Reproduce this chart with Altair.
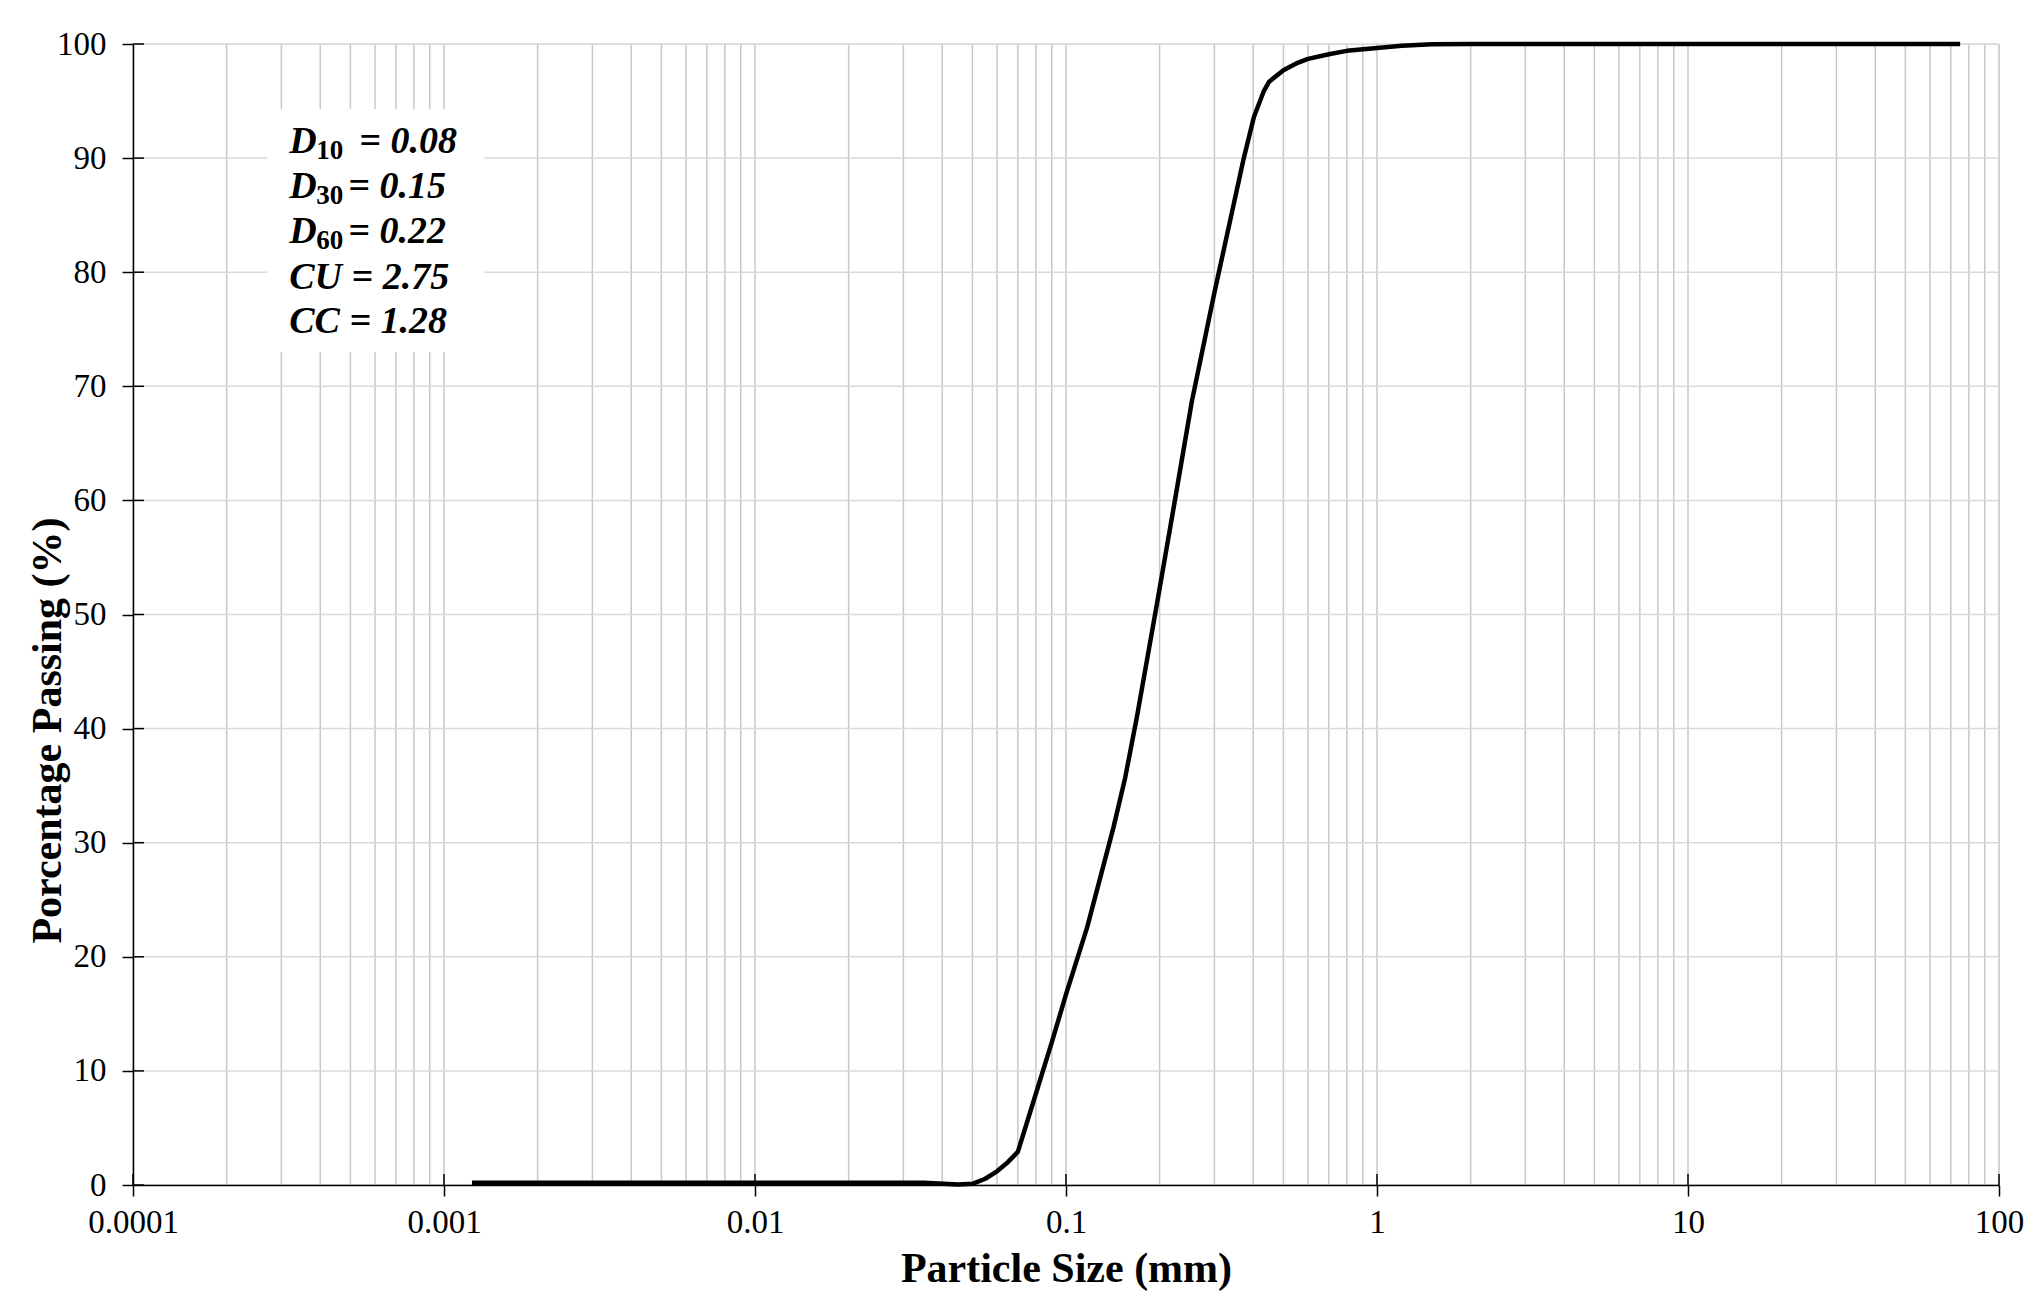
import altair as alt
import pandas as pd

# Particle size distribution
sizes = [0.00123, 0.01, 0.035, 0.045, 0.05, 0.055, 0.06, 0.065, 0.07, 0.08, 0.09, 0.1, 0.117, 0.142,
         0.155, 0.169, 0.196, 0.222, 0.254, 0.30, 0.373, 0.402, 0.433, 0.45, 0.5, 0.55, 0.6, 0.7,
         0.8, 1.0, 1.2, 1.5, 2.0, 75.0]
passing = [0.2, 0.2, 0.2, 0.05, 0.1, 0.55, 1.2, 2.0, 2.9, 8.0, 12.5, 16.7, 22.6, 31.3,
           35.7, 41.0, 50.9, 59.4, 68.7, 78.2, 90.0, 93.6, 95.9, 96.7, 97.7, 98.3, 98.7, 99.1,
           99.4, 99.65, 99.85, 99.97, 100.0, 100.0]

x_decades = [0.0001, 0.001, 0.01, 0.1, 1, 10, 100]
x_grid = [m * d for d in [0.0001, 0.001, 0.01, 0.1, 1, 10] for m in range(1, 10)] + [100]
y_ticks = [0, 10, 20, 30, 40, 50, 60, 70, 80, 90, 100]

# annotation: main text, subscripts and the rest of each line
ann_main = ["D", "D", "D", "CU = 2.75", "CC = 1.28"]
ann_sub = ["10", "30", "60"]
ann_rest_first = ["= 0.08"]
ann_rest = ["= 0.15", "= 0.22"]
ann_y = [91.6, 87.6, 83.7, 79.7, 75.8]
ann_x = 0.000318
box_x = [0.00027, 0.00135]
box_y = [73.0, 94.3]

W, H = 1866, 1141
FONT = "Liberation Serif"

xscale = alt.Scale(type="log", domain=[0.0001, 100])
yscale = alt.Scale(domain=[0, 100])

xaxis = alt.Axis(values=x_decades, title="Particle Size (mm)", grid=False,
                 labelExpr="format(datum.value, '~g')", labelFlush=False,
                 tickSize=11, tickWidth=1.5, tickColor="black",
                 domainColor="black", domainWidth=1.5,
                 labelFont=FONT, labelFontSize=33, labelColor="black", labelPadding=10,
                 titleFont=FONT, titleFontSize=42, titleFontWeight="bold", titleColor="black",
                 titleY=83, titleBaseline="middle", zindex=1)
yaxis = alt.Axis(values=y_ticks, title="Porcentage Passing (%)", grid=False, labelFlush=False,
                 tickSize=11, tickWidth=1.5, tickColor="black",
                 domainColor="black", domainWidth=1.5,
                 labelFont=FONT, labelFontSize=33, labelColor="black", labelPadding=16,
                 titleFont=FONT, titleFontSize=42, titleFontWeight="bold", titleColor="black",
                 titleX=-86, titleY=686, titleBaseline="middle", zindex=1)

X = lambda f="x": alt.X(f"{f}:Q", scale=xscale, axis=xaxis, title="Particle Size (mm)")
Y = lambda f="y": alt.Y(f"{f}:Q", scale=yscale, axis=yaxis, title="Porcentage Passing (%)")

df = pd.DataFrame({"x": sizes, "y": passing})

vgrid = alt.Chart(pd.DataFrame({"x": x_grid})).mark_rule(color="#c8c8c8", strokeWidth=1.5).encode(
    x=X(), y=alt.value(0), y2=alt.value(H))
hgrid = alt.Chart(pd.DataFrame({"y": y_ticks})).mark_rule(color="#d9d9d9", strokeWidth=1.5).encode(
    y=Y(), x=alt.value(0), x2=alt.value(W))

box = alt.Chart(pd.DataFrame({"x": [box_x[0]], "x2": [box_x[1]], "y": [box_y[0]], "y2": [box_y[1]]})).mark_rect(
    color="white").encode(x=X(), x2="x2:Q", y=Y(), y2="y2:Q")

txt_style = dict(align="left", baseline="alphabetic", font=FONT, fontStyle="italic",
                 fontWeight="bold", color="black")
main = alt.Chart(pd.DataFrame({"x": [ann_x] * 5, "y": ann_y, "t": ann_main})).mark_text(
    fontSize=38, dy=13, **txt_style).encode(x=X(), y=Y(), text="t:N")
sub = alt.Chart(pd.DataFrame({"x": [ann_x] * 3, "y": ann_y[:3], "t": ann_sub})).mark_text(
    fontSize=27, dx=27, dy=19, align="left", baseline="alphabetic", font=FONT, fontWeight="bold",
    color="black").encode(x=X(), y=Y(), text="t:N")
rest1 = alt.Chart(pd.DataFrame({"x": [ann_x], "y": ann_y[:1], "t": ann_rest_first})).mark_text(
    fontSize=38, dx=70, dy=13, **txt_style).encode(x=X(), y=Y(), text="t:N")
rest = alt.Chart(pd.DataFrame({"x": [ann_x] * 2, "y": ann_y[1:3], "t": ann_rest})).mark_text(
    fontSize=38, dx=59, dy=13, **txt_style).encode(x=X(), y=Y(), text="t:N")

curve = alt.Chart(df).mark_line(color="black", strokeWidth=4.5, interpolate="linear",
                                strokeJoin="round").encode(x=X(), y=Y())

xin = alt.Chart(pd.DataFrame({"x": x_decades})).mark_rule(color="black", strokeWidth=1.5).encode(
    x=X(), y=alt.value(H - 11), y2=alt.value(H))
yin = alt.Chart(pd.DataFrame({"y": y_ticks})).mark_rule(color="black", strokeWidth=1.5).encode(
    y=Y(), x=alt.value(0), x2=alt.value(11))

chart = alt.layer(vgrid, hgrid, box, main, sub, rest1, rest, curve, xin, yin).properties(
    width=W, height=H,
    autosize=alt.AutoSizeParams(type="none"),
    padding={"left": 125, "top": 36, "right": 30, "bottom": 110},
).configure_view(stroke=None).configure(background="white")

chart.save("out.html", embed_options={"renderer": "svg", "actions": False})
